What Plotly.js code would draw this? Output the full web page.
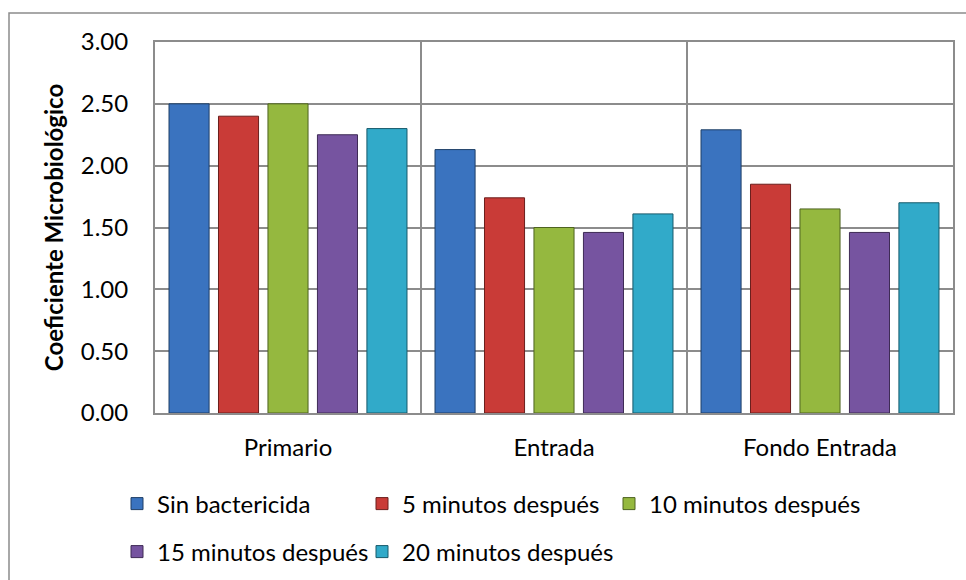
<!DOCTYPE html>
<html>
<head>
<meta charset="utf-8">
<script src="https://cdn.plot.ly/plotly-3.0.1.min.js"></script>
<style>
  html, body { margin: 0; padding: 0; background: #ffffff; }
  #chart { width: 966px; height: 580px; }
</style>
</head>
<body>
<div id="chart"></div>
<script>
const categories = ["Primario", "Entrada", "Fondo Entrada"];
const seriesNames = ["Sin bactericida", "5 minutos después", "10 minutos después", "15 minutos después", "20 minutos después"];
const sinBactericida = [2.50, 2.13, 2.29];
const min5 = [2.40, 1.74, 1.85];
const min10 = [2.50, 1.50, 1.65];
const min15 = [2.25, 1.46, 1.46];
const min20 = [2.30, 1.61, 1.70];
const yTickValues = [0, 0.5, 1, 1.5, 2, 2.5, 3];
const yTickLabels = ["0.00", "0.50", "1.00", "1.50", "2.00", "2.50", "3.00"];

const seriesValues = [sinBactericida, min5, min10, min15, min20];
const fills = ["#3A73BF", "#C93B37", "#95B83F", "#7654A0", "#31AAC9"];
const edges = ["#1F3F66", "#6B1E1C", "#4E6320", "#3E2B55", "#175A6B"];
const legendIds = ["legend", "legend2", "legend3", "legend4", "legend5"];
// legend box positions in pixels (left edge, row centre)
const legendPos = [[117, 504], [362, 504], [609, 504], [117, 552], [362, 552]];

const FONT = "Lato, 'Open Sans', sans-serif";
const FS = 24;
const W = 966, H = 580;

const traces = seriesValues.map((vals, i) => ({
  type: "bar",
  name: seriesNames[i],
  x: categories,
  y: vals,
  legend: legendIds[i],
  marker: { color: fills[i], line: { color: edges[i], width: 1 } },
  hoverinfo: "x+y+name"
}));

const grid = "#8C8C8C";

const layout = {
  width: W,
  height: H,
  margin: { l: 155, r: 13, t: 42, b: 167, autoexpand: false },
  paper_bgcolor: "#ffffff",
  plot_bgcolor: "#ffffff",
  barmode: "group",
  bargap: 0.07,
  bargroupgap: 0.19,
  font: { family: FONT, size: FS, color: "#000000" },
  xaxis: {
    type: "category",
    automargin: false,
    tickson: "boundaries",
    showgrid: true,
    gridcolor: grid,
    gridwidth: 2,
    showline: true,
    mirror: true,
    linecolor: grid,
    linewidth: 2,
    ticks: "",
    ticklabelstandoff: 12,
    tickfont: { family: FONT, size: FS, color: "#000000" },
    fixedrange: true
  },
  yaxis: {
    range: [0, 3],
    automargin: false,
    tickvals: yTickValues,
    ticktext: yTickLabels,
    showgrid: true,
    gridcolor: grid,
    gridwidth: 2,
    zeroline: false,
    showline: true,
    mirror: true,
    linecolor: grid,
    linewidth: 2,
    ticks: "",
    ticklabelstandoff: 20,
    tickfont: { family: FONT, size: FS, color: "#000000" },
    title: {
      text: "<b>Coeficiente Microbiológico</b>",
      font: { family: FONT, size: 24, color: "#000000" },
      standoff: 10
    },
    fixedrange: true
  },
  showlegend: true,
  shapes: [
    {
      type: "rect", xref: "paper", yref: "paper", layer: "below",
      x0: (9 - 155) / 798, x1: (975 - 155) / 798,
      y0: (413 - 590) / 371, y1: (413 - 13) / 371,
      line: { color: grid, width: 1.5 }, fillcolor: "rgba(0,0,0,0)"
    }
  ]
};

legendIds.forEach((id, i) => {
  layout[id] = {
    xref: "container",
    yref: "container",
    x: legendPos[i][0] / W,
    y: 1 - legendPos[i][1] / H,
    xanchor: "left",
    yanchor: "middle",
    orientation: "h",
    font: { family: FONT, size: FS, color: "#000000" },
    bgcolor: "rgba(0,0,0,0)",
    itemclick: false,
    itemdoubleclick: false
  };
});

Plotly.newPlot("chart", traces, layout, { displayModeBar: false });
</script>
</body>
</html>
